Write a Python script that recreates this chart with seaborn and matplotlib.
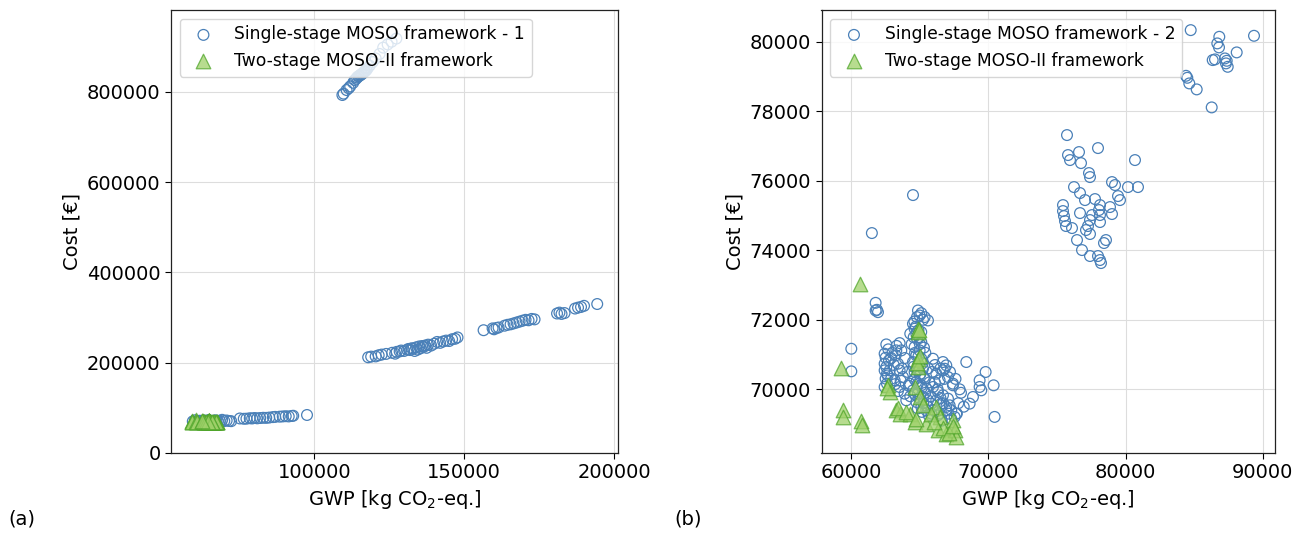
import matplotlib
matplotlib.use("Agg")
import matplotlib.pyplot as plt
import seaborn as sns
import pandas as pd

# ---------------- data ----------------
# Panel (a): single-stage MOSO framework - 1
a_single_gwp = [
    59500, 60200, 61000, 61800, 62500, 63200, 64000, 64800, 65500, 66200, 67000,
    67800, 68500, 69300, 70000, 70800, 71600, 72300,
    75200, 76500, 77400, 78500, 79300, 80100, 81000, 82000, 83000, 84000, 85000,
    86200, 87000, 88500, 89500, 90500, 91500, 92500, 93000, 97600,
    118000, 119000, 120500, 121500, 122500, 124000, 126000, 127000, 127500, 128500,
    129000, 130000, 131000, 131500, 132000, 132500, 133000, 133500, 134000, 134500,
    135000, 135500, 136000, 136500, 137000, 137500, 138000, 139000, 140000, 141000,
    142000, 143000, 144000, 145000, 146000, 147000, 147800,
    156500, 159500, 160000, 160800, 161500, 163500, 164500, 165500, 166500, 167500,
    168500, 169500, 170500, 171500, 172500, 173500, 181000, 181800, 182500, 183500,
    187000, 188000, 189000, 190000, 194400,
    109400, 109800, 110800, 111500, 112000, 113500, 114000, 114700, 115200, 115800,
    116300, 116800, 117400, 118500, 119500, 120500, 121800, 123000, 124500, 125800,
    127400, 113000, 114300, 115500, 116000, 116600, 117000, 117800, 114900,
]
a_single_cost = [
    70000, 72500, 69500, 71500, 70500, 72000, 70000, 73000, 71000, 69800, 72500,
    70500, 71500, 73500, 70800, 72000, 71000, 70500,
    76500, 75800, 76000, 77000, 76500, 77500, 76800, 77500, 78000, 77800, 78500,
    79500, 80000, 80500, 81000, 81500, 81000, 82000, 82500, 84200,
    212000, 213500, 214000, 216500, 218000, 219500, 222000, 220000, 224000, 225000,
    227000, 226000, 229000, 230500, 228000, 232000, 231000, 226000, 234000, 229000,
    236000, 232000, 237000, 235000, 238000, 233000, 240000, 238000, 242000, 246000,
    244000, 247000, 249000, 248000, 252000, 253000, 256000,
    272000, 276000, 274000, 277000, 278000, 282000, 284000, 285000, 287000, 289000,
    291000, 293000, 295000, 294000, 297000, 296000, 309000, 311000, 308000, 310000,
    320000, 322000, 323500, 326000, 330000,
    793000, 796000, 804000, 808000, 812000, 826000, 829000, 834000, 836000, 839000,
    842000, 845000, 848000, 858000, 866000, 874000, 884000, 898000, 905000, 911000,
    918000, 820000, 832000, 838000, 840000, 844000, 846000, 852000, 835000,
]

# Two-stage MOSO-II framework (same solutions shown in both panels)
two_stage_gwp = [
    60608, 59271, 59392, 59392, 60681, 60802, 62674, 62796, 63282, 63525, 64254,
    64619, 64862, 64862, 64862, 64619, 64984, 65227, 65470, 66199, 66442, 66321,
    66929, 67415, 67537, 67658, 64900,
    64950, 64800, 65000, 63400, 64000, 66700, 67100, 67400, 65800, 66000, 64700, 62600,
]
two_stage_cost = [
    73034, 70622, 69397, 69206, 69091, 68966, 70115, 69923, 69397, 69301, 69301,
    69062, 71646, 70880, 70641, 70067, 69780, 69540, 69014, 69493, 69206, 68823,
    68727, 69110, 68823, 68631, 71740,
    71700, 70750, 70950, 69450, 69350, 68900, 68750, 68950, 69300, 69050, 69150, 70050,
]

# Panel (b): single-stage MOSO framework - 2
b_single_gwp = [
    # lower cluster
    60000, 60000, 61775, 61870, 61945, 61775,
    62552, 62431, 62504, 62431, 62552, 62431, 62601, 62504, 62601, 62431, 62796, 62747,
    63282, 63233, 63525, 63646, 63404, 63525, 63768, 63160, 63525, 63890, 64011, 64254,
    64862, 64984, 65105, 64789, 65227, 65591, 65348, 64497, 64619, 64740, 64935, 65105,
    64619, 64984, 64740, 65105, 64497, 64862, 65227, 64619, 64984, 65348, 64740, 65105,
    65470, 64497, 64862, 65227, 65591, 65834, 64740, 65105, 65470, 65834,
    65956, 66685, 66928, 66807, 66685, 66199, 66442, 67050, 67415, 67415, 65956, 66321,
    66685, 67050, 66199, 66564, 66928, 67293, 67171, 67658, 67537, 66442,
    68387, 69359, 69797, 69359, 69481, 70380, 70453, 68873, 68630,
    64600, 64700, 64900, 65100, 64550, 64800, 65000, 65300, 64650, 64900, 65200, 64550,
    64800, 65050, 65300, 64600, 64850, 65150, 65400, 64650, 64950, 65250, 65550, 64850,
    65150, 65650, 65400, 65600, 65700, 65800,
    62700, 62900, 63100, 62650, 62900, 63200, 63400, 63600, 63700, 63900, 63300, 63000,
    64100, 64200, 64300,
    65900, 66100, 66300, 66500, 66700, 66900, 67100, 67300, 66000, 66300, 66600, 67800,
    68000, 67600, 67900, 66800, 66100, 66500, 67200, 67700, 68200, 64300, 64400,
    # outliers
    64500, 61500,
    # middle cluster
    75733, 77994, 75806, 75952, 76608, 76754, 77337, 77410, 80692, 80911, 80182, 76244,
    76681, 77046, 79015, 79234, 79453, 78140, 78869, 75441, 75441, 75514, 75587, 75660,
    76681, 77556, 77410, 77264, 77118, 77410, 78140, 78140, 78067, 78577, 78431, 76827,
    77410, 77994, 78140, 78213, 76098, 76463, 77775, 79015, 79598,
    # upper cluster
    84756, 86842, 89373, 86696, 86820, 88111, 86360, 86528, 87257, 87382, 87331, 87455,
    84413, 84508, 84653, 85193, 86287,
]
b_single_cost = [
    71167, 70517, 72488, 72287, 72220, 72268,
    71292, 71024, 70909, 70737, 70641, 70545, 70450, 70306, 70163, 70067, 70545, 70832,
    71120, 70976, 71330, 71120, 70737, 70545, 70354, 70258, 70067, 69875, 69684, 70163,
    72268, 72124, 72191, 72077, 72000, 71981, 72077, 71885, 71742, 71598, 71502, 71359,
    71215, 71120, 70976, 70880, 70785, 70689, 70593, 70498, 70402, 70306, 70210, 70115,
    70019, 69971, 69875, 69780, 69684, 69588, 69636, 69493, 69397, 69301,
    70880, 70785, 70689, 70593, 70545, 70450, 70258, 70354, 70163, 70115, 70067, 69923,
    69828, 69732, 69684, 69588, 69493, 69397, 69540, 69301, 69206, 69301,
    70785, 70258, 70498, 70067, 69971, 70115, 69206, 69780, 69588,
    71950, 71800, 71700, 71650, 71500, 71450, 71300, 71200, 71050, 70950, 70750, 70650,
    70550, 70450, 70350, 70300, 70150, 70050, 69900, 69850, 69750, 69600, 69500, 69450,
    69350, 69250, 71050, 70600, 70200, 69800,
    71150, 70900, 70700, 70400, 70300, 70150, 69950, 70250, 70600, 70900, 71250, 71050,
    70500, 70100, 69800,
    70500, 70200, 70000, 69750, 69600, 69400, 69300, 69150, 69400, 69250, 69100, 69600,
    69900, 70300, 70000, 70300, 70700, 70600, 70500, 69300, 69500, 71600, 71300,
    75588, 74495,
    77314, 76940, 76739, 76595, 76825, 76508, 76221, 76106, 76595, 75818, 75818, 75818,
    75646, 75444, 75962, 75876, 75559, 75300, 75243, 75300, 75128, 74984, 74840, 74697,
    75070, 75013, 74869, 74697, 74582, 74467, 75013, 74812, 75157, 74294, 74208, 74006,
    73834, 73834, 73719, 73632, 74639, 74294, 75473, 75042, 75444,
    80333, 80141, 80170, 79951, 79836, 79692, 79471, 79491, 79519, 79451, 79376, 79278,
    79019, 78962, 78800, 78628, 78110,
]

label_single_a = "Single-stage MOSO framework - 1"
label_single_b = "Single-stage MOSO framework - 2"
label_two = "Two-stage MOSO-II framework"
xlabel = "GWP [kg CO$_2$-eq.]"
ylabel = "Cost [€]"

df_a = pd.DataFrame({"gwp": a_single_gwp, "cost": a_single_cost})
df_b = pd.DataFrame({"gwp": b_single_gwp, "cost": b_single_cost})
df_two = pd.DataFrame({"gwp": two_stage_gwp, "cost": two_stage_cost})

# ---------------- style ----------------
sns.set_theme(style="ticks")
plt.rcParams["font.family"] = ["DejaVu Sans"]
plt.rcParams.update({
    "text.color": "black",
    "axes.labelcolor": "black",
    "xtick.color": "black",
    "ytick.color": "black",
    "axes.edgecolor": "black",
})

blue = "#4a80b8"
green_face = "#9fd16a"
green_edge = "#4fa52a"

fig = plt.figure(figsize=(13.02, 5.36), dpi=100)
ax_a = fig.add_axes([171 / 1302, 83 / 536, 447 / 1302, 443 / 536])
ax_b = fig.add_axes([821.5 / 1302, 83 / 536, 453 / 1302, 443 / 536])


def draw(ax, df_single, label_single):
    sns.scatterplot(data=df_single, x="gwp", y="cost", ax=ax, marker="o", s=60,
                    facecolors="none", edgecolors=blue, linewidths=0.9,
                    label=label_single, zorder=3)
    sns.scatterplot(data=df_two, x="gwp", y="cost", ax=ax, marker="^", s=110,
                    color=green_face, edgecolor=green_edge, linewidth=0.9,
                    alpha=0.75, label=label_two, zorder=4)
    ax.grid(True, color="#dddddd", linewidth=0.8, zorder=0)
    ax.set_axisbelow(True)
    ax.set_xlabel(xlabel, fontsize=14)
    ax.set_ylabel(ylabel, fontsize=14)
    ax.tick_params(labelsize=14, length=4, width=0.8)
    for sp in ax.spines.values():
        sp.set_color("#222222")
        sp.set_linewidth(0.9)
    leg = ax.legend(loc="upper left", fontsize=12.3, framealpha=0.8,
                    edgecolor="#cccccc", borderaxespad=0.5)
    return leg


draw(ax_a, df_a, label_single_a)
ax_a.set_xlim(52233, 201333)
ax_a.set_ylim(0, 981300)
ax_a.set_xticks([100000, 150000, 200000])
ax_a.set_yticks([0, 200000, 400000, 600000, 800000])

draw(ax_b, df_b, label_single_b)
ax_b.set_xlim(57826, 90868)
ax_b.set_ylim(68168, 80912)
ax_b.set_xticks([60000, 70000, 80000, 90000])
ax_b.set_yticks([70000, 72000, 74000, 76000, 78000, 80000])

fig.text(8 / 1302, 1 - 519 / 536, "(a)", fontsize=14, va="center", ha="left")
fig.text(674 / 1302, 1 - 519 / 536, "(b)", fontsize=14, va="center", ha="left")

fig.savefig("out.png", dpi=100)
